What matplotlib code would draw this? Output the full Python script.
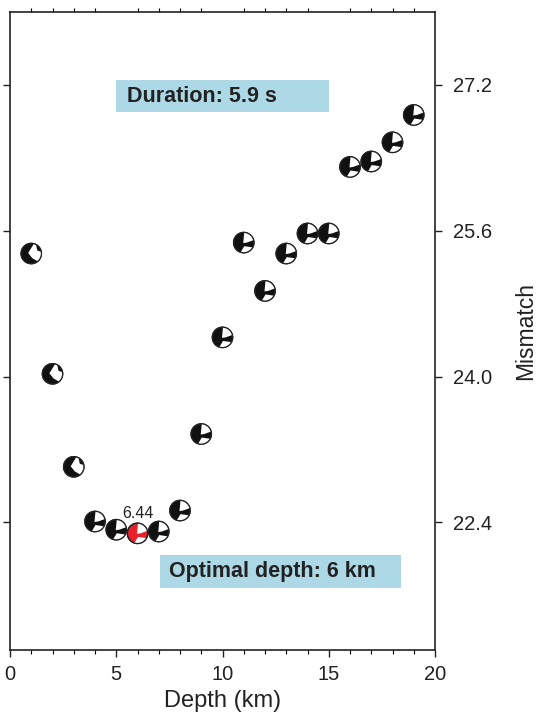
import numpy as np
import matplotlib.pyplot as plt
import matplotlib.transforms as mtransforms
from matplotlib.patches import Circle, Polygon, Rectangle

plt.rcParams['font.family'] = ['Liberation Sans', 'DejaVu Sans']

depth = [1, 2, 3, 4, 5, 6, 7, 8, 9, 10, 11, 12, 13, 14, 15, 16, 17, 18, 19]
mismatch = [25.35, 24.03, 23.01, 22.41, 22.32, 22.28, 22.30, 22.53, 23.37, 24.43,
            25.47, 24.94, 25.35, 25.57, 25.57, 26.30, 26.36, 26.57, 26.87]
best_depth = 6
best_label = "6.44"
duration_text = "Duration: 5.9 s"
optimal_text = "Optimal depth: 6 km"

fig = plt.figure(figsize=(5.42, 7.21), dpi=100)
ax = fig.add_axes([10 / 542, 71 / 721, 425 / 542, 638 / 721])
ax.set_xlim(0, 20)
ax.set_ylim(21, 28)


def arc(a0, a1, n=30):
    t = np.radians(np.linspace(a0, a1, n))
    return np.column_stack([np.cos(t), np.sin(t)])


def beachball(ax, x, y, color, r=0.102, early=False):
    # r in inches, shape drawn in a local frame around the data point
    tr = (mtransforms.Affine2D().scale(r) + fig.dpi_scale_trans
          + mtransforms.ScaledTranslation(x, y, ax.transData))
    ax.add_patch(Circle((0, 0), 1, transform=tr, facecolor=color,
                        edgecolor="#222222", lw=0.9, zorder=5))
    if early:
        w1 = np.vstack([[[-0.3, 0.05]], arc(75, -50), [[0.1, -0.45]]])
        ax.add_patch(Polygon(w1, closed=True, transform=tr, facecolor="white",
                             edgecolor="none", zorder=6))
        w2 = np.vstack([arc(62, 10), [[0.6, 0.3]]])
        ax.add_patch(Polygon(w2 * 0.99, closed=True, transform=tr, facecolor=color,
                             edgecolor="none", zorder=7))
    else:
        w1 = np.vstack([[[-0.05, -0.05]], [[0.05, 0.99]], arc(87, 14), [[0.3, 0.0]]])
        ax.add_patch(Polygon(w1, closed=True, transform=tr, facecolor="white",
                             edgecolor="none", zorder=6))
        w2 = np.vstack([[[0.05, -0.35]], arc(-28, -108)])
        ax.add_patch(Polygon(w2, closed=True, transform=tr, facecolor="white",
                             edgecolor="none", zorder=6))
    ax.add_patch(Circle((0, 0), 1, transform=tr, facecolor="none",
                        edgecolor="#222222", lw=0.9, zorder=8))


for d, m in zip(depth, mismatch):
    c = "#e8202a" if d == best_depth else "#111111"
    beachball(ax, d, m, c, early=(d <= 3))

bi = depth.index(best_depth)
ax.text(best_depth, mismatch[bi] + 0.13, best_label, ha="center", va="bottom",
        fontsize=11.5, color="#222222", zorder=9)

ax.add_patch(Rectangle((5.0, 26.9), 10.0, 0.35, facecolor="#add8e6",
                       edgecolor="none", zorder=2))
ax.text(5.5, 27.07, duration_text, fontsize=15.5, fontweight="bold",
        color="#222222", va="center", ha="left", zorder=3)
ax.add_patch(Rectangle((7.05, 21.68), 11.35, 0.36, facecolor="#add8e6",
                       edgecolor="none", zorder=2))
ax.text(7.5, 21.86, optimal_text, fontsize=15.5, fontweight="bold",
        color="#222222", va="center", ha="left", zorder=3)

ax.set_xticks([0, 5, 10, 15, 20])
ax.set_xticks(range(0, 21), minor=True)
ax.set_yticks([22.4, 24.0, 25.6, 27.2])
ax.set_yticklabels(["22.4", "24.0", "25.6", "27.2"])
ax.yaxis.tick_right()
ax.yaxis.set_label_position("right")
ax.tick_params(axis="both", which="major", direction="out", length=5, width=1,
               labelsize=14.5, colors="#222222", pad=6)
ax.tick_params(axis="x", which="minor", direction="out", length=3, width=0.8,
               top=True)
ax.tick_params(axis="y", which="major", left=True, right=True, pad=8)
ax.set_xlabel("Depth (km)", fontsize=17, color="#222222", labelpad=4)
ax.set_ylabel("Mismatch", fontsize=16.5, color="#222222", labelpad=16)

for s in ax.spines.values():
    s.set_linewidth(1.2)
    s.set_color("#222222")

plt.savefig("out.png", dpi=100)
